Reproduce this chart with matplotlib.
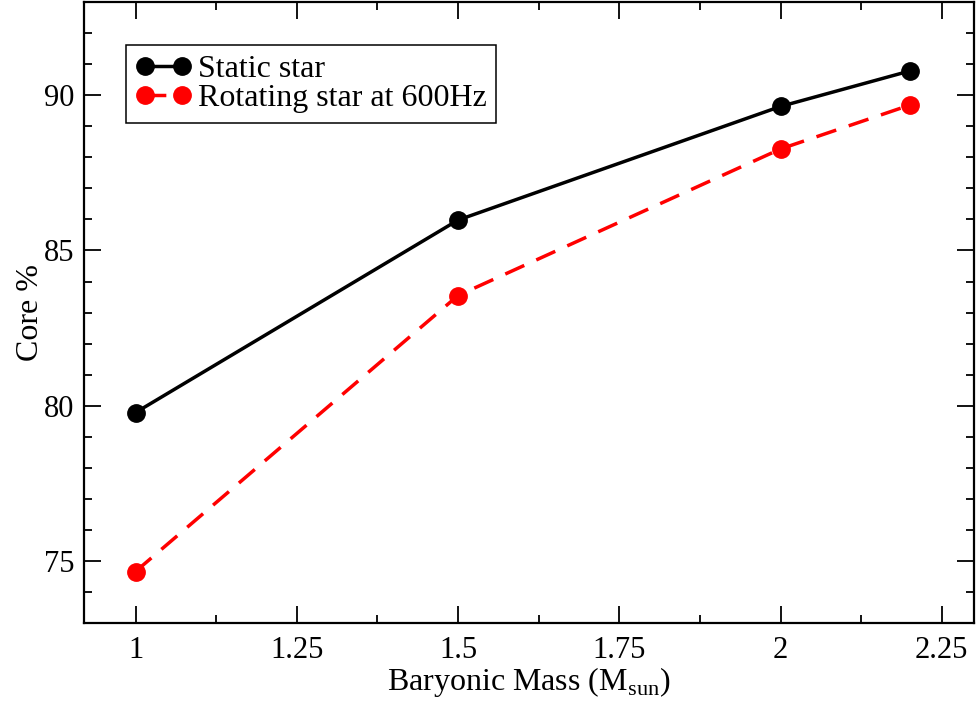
import matplotlib
matplotlib.use("Agg")
import matplotlib.pyplot as plt
from matplotlib.ticker import MultipleLocator

plt.rcParams["font.family"] = ["Liberation Serif", "DejaVu Serif"]
plt.rcParams["mathtext.fontset"] = "custom"
plt.rcParams["mathtext.rm"] = "Liberation Serif"

# baryonic mass (M_sun) and core fraction (%)
mass = [1.0, 1.5, 2.0, 2.2]
core_static = [79.78, 85.98, 89.64, 90.78]
core_rot600 = [74.66, 83.55, 88.27, 89.68]

fig = plt.figure(figsize=(9.76, 7.04), dpi=100)
ax = fig.add_axes([0.086, 0.115, 0.912, 0.882])

ax.plot(mass, core_static, color="black", lw=2.5, marker="o", ms=12.5,
        label="Static star")
ax.plot(mass, core_rot600, color="red", lw=2.5, marker="o", ms=12.5,
        dashes=(6, 3.8), label="Rotating star at 600Hz")

ax.set_xlim(0.92, 2.3)
ax.set_ylim(73, 93)
ax.xaxis.set_major_locator(MultipleLocator(0.25))
ax.xaxis.set_minor_locator(MultipleLocator(0.125))
ax.yaxis.set_major_locator(MultipleLocator(5))
ax.yaxis.set_minor_locator(MultipleLocator(1))
ax.set_xticks([1, 1.25, 1.5, 1.75, 2, 2.25])
ax.set_xticklabels(["1", "1.25", "1.5", "1.75", "2", "2.25"])

ax.tick_params(which="both", direction="in", top=True, right=True,
               labelsize=22, width=1.3)
ax.tick_params(axis="x", pad=9)
ax.tick_params(axis="y", pad=7)
ax.tick_params(which="major", length=12)
ax.tick_params(which="minor", length=6)
for sp in ax.spines.values():
    sp.set_linewidth(1.6)

ax.set_xlabel(r"Baryonic Mass (M$_{\rm sun}$)", fontsize=23, labelpad=0)
ax.set_ylabel("Core %", fontsize=23)
ax.yaxis.set_label_coords(-0.044, 0.5)

leg = ax.legend(loc="upper left", bbox_to_anchor=(0.047, 0.931),
                borderaxespad=0, fontsize=23, numpoints=2,
                handlelength=1.75, handletextpad=0.2, labelspacing=0.0,
                borderpad=0.3, fancybox=False, framealpha=1)
leg.get_frame().set_edgecolor("black")
leg.get_frame().set_linewidth(1.1)

fig.savefig("out.png", dpi=100)
